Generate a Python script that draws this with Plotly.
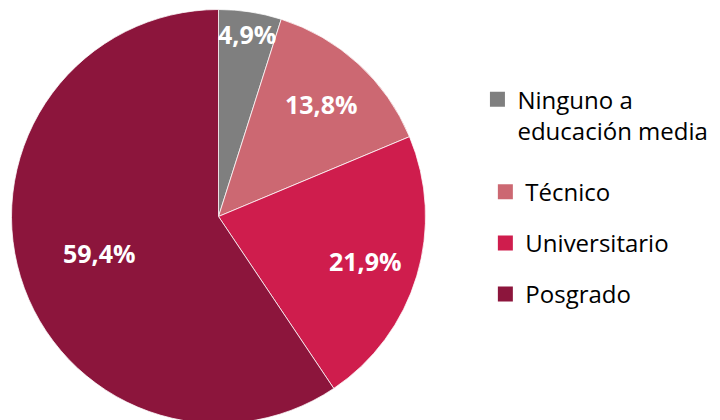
import math
import plotly.graph_objects as go

# Nivel educativo (porcentajes)
labels = ['Ninguno a<br>educación media', 'Técnico', 'Universitario', 'Posgrado']
values = [4.9, 13.8, 21.9, 59.4]
colors = ['#7F7F7F', '#CC6872', '#CF1D4D', '#8C153C']

FONT = 'Open Sans'
W, H = 720, 420
MT, MB = 1, 4

# geometría del pastel (px de la figura); la página añade 8 px de margen
CX, R = 210.5, 207
label_r = [0.89, 0.74, 0.74, 0.60]   # distancia relativa de cada etiqueta

fig = go.Figure()

fig.add_trace(go.Pie(
    labels=labels,
    values=values,
    sort=False,
    direction='clockwise',
    rotation=0,
    marker=dict(colors=colors, line=dict(color='white', width=0.75)),
    textinfo='none',
    domain=dict(x=[(CX - R) / W, (CX + R) / W], y=[0, 1]),
    showlegend=False,
    hoverinfo='label+percent',
))

# etiquetas de porcentaje, centradas en el ángulo medio de cada sector
plot_h = H - MT - MB
total = sum(values)
acc = 0
for v, f in zip(values, label_r):
    ang = 2 * math.pi * (acc + v / 2) / total
    acc += v
    fig.add_annotation(
        x=(CX + f * R * math.sin(ang)) / W,
        y=0.5 + f * R * math.cos(ang) / plot_h,
        xref='paper', yref='paper',
        xanchor='center', yanchor='middle',
        text=f'{v / total * 100:.1f}%'.replace('.', ','),
        showarrow=False,
        font=dict(family=FONT, size=25, color='white', weight='bold'),
    )

# leyenda: una entrada por categoría
for i, (lab, col) in enumerate(zip(labels, colors)):
    fig.add_trace(go.Scatter(
        x=[None], y=[None],
        mode='markers',
        marker=dict(symbol='square', size=15, color=col),
        name=lab,
        legendgroup=lab,
        legend='legend' if i == 0 else 'legend2',
        showlegend=True,
    ))

fig.update_layout(
    width=W,
    height=H,
    margin=dict(l=0, r=0, t=MT, b=MB),
    paper_bgcolor='white',
    plot_bgcolor='white',
    separators=',.',
    font=dict(family=FONT, color='black'),
    xaxis=dict(visible=False),
    yaxis=dict(visible=False),
    legend=dict(
        x=0.652, y=0.836, xanchor='left', yanchor='top',
        valign='top',
        font=dict(family=FONT, size=24, color='black'),
        bgcolor='rgba(0,0,0,0)',
    ),
    legend2=dict(
        x=0.663, y=0.613, xanchor='left', yanchor='top',
        tracegroupgap=17,
        font=dict(family=FONT, size=24, color='black'),
        bgcolor='rgba(0,0,0,0)',
    ),
)

fig.write_html("out.html")
